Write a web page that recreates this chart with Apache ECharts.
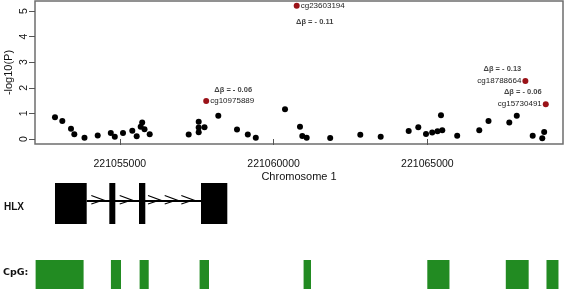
<!DOCTYPE html>
<html>
<head>
<meta charset="utf-8">
<script src="https://cdn.jsdelivr.net/npm/echarts@6/dist/echarts.min.js"></script>
<style>
  html, body { margin: 0; padding: 0; background: #fff; }
  #main { width: 567px; height: 290px; }
</style>
</head>
<body>
<div id="main"></div>
<script>
// probe positions (bp, chr1) and -log10(P)
var probePos = [221052893, 221053131, 221053413, 221053521, 221053852, 221054282, 221054707, 221054837,
  221055104, 221055406, 221055549, 221055679, 221055728, 221055803, 221055972, 221057240, 221057565,
  221057565, 221057565, 221057754, 221058202, 221058810, 221059161, 221059421, 221060371, 221060858,
  221060933, 221061076, 221061840, 221062819, 221063482, 221064392, 221064704, 221064955, 221065156,
  221065328, 221065484, 221065442, 221065969, 221066687, 221066987, 221067663, 221067906, 221068424,
  221068735, 221068797];
var probeVal = [0.85, 0.70, 0.40, 0.19, 0.05, 0.14, 0.23, 0.09, 0.23, 0.32, 0.11, 0.48, 0.64, 0.38,
  0.19, 0.18, 0.67, 0.45, 0.26, 0.46, 0.91, 0.37, 0.18, 0.05, 1.16, 0.48, 0.12, 0.05, 0.04, 0.17, 0.09,
  0.31, 0.46, 0.20, 0.25, 0.30, 0.34, 0.93, 0.13, 0.34, 0.70, 0.64, 0.91, 0.13, 0.03, 0.27];

// highlighted probes
var hitNames = ['cg10975889', 'cg23603194', 'cg18788664', 'cg15730491'];
var hitPos = [221057809, 221060751, 221068186, 221068849];
var hitVal = [1.48, 5.2, 2.27, 1.36];
var hitDelta = ['- 0.06', '- 0.11', '- 0.13', '- 0.06'];

// HLX gene model
var exons = [[221052893, 221053924], [221054659, 221054854], [221055624, 221055829], [221057640, 221058495]];
var strandArrows = [221054464, 221055387, 221056307, 221056850, 221057390];

// CpG islands
var cpgs = [[221052263, 221053823], [221054711, 221055039], [221055644, 221055940], [221057594, 221057900],
  [221060975, 221061216], [221064997, 221065718], [221067549, 221068293], [221068872, 221069262]];

var xTicks = [221055000, 221060000, 221065000];
var yTicks = [0, 1, 2, 3, 4, 5];
var xMin = 221052243, xMax = 221069409;

var font = 'Liberation Sans, Arial, sans-serif';
var chart = echarts.init(document.getElementById('main'));

// label placement for each highlighted probe
var nameSide = ['right', 'right', 'left', 'left'];
var deltaOffset = [[27, -11], [18, 16], [-23, -12], [-23, -12]];

var hitData = hitPos.map(function (p, i) {
  return { value: [p, hitVal[i]], name: hitNames[i], label: { position: nameSide[i] } };
});
var deltaData = hitPos.map(function (p, i) {
  return { value: [p, hitVal[i]], name: 'Δβ = ' + hitDelta[i], label: { offset: deltaOffset[i] } };
});

function rectItem(params, api) {
  var a = api.coord([api.value(0), 1]);
  var b = api.coord([api.value(1), 0]);
  return {
    type: 'rect',
    shape: { x: a[0], y: a[1], width: b[0] - a[0], height: b[1] - a[1] },
    style: { fill: api.visual('color') }
  };
}

var hidden = { show: false };

option = {
  animation: false,
  grid: [
    { left: 35, right: 4, top: 1, height: 143, outerBoundsMode: 'none', show: true, borderColor: '#6e6e6e', borderWidth: 1.5, backgroundColor: 'transparent' },
    { left: 35, right: 4, top: 183, height: 41, outerBoundsMode: 'none' },
    { left: 35, right: 4, top: 260, height: 29, outerBoundsMode: 'none' }
  ],
  xAxis: [
    {
      gridIndex: 0, type: 'value', min: xMin, max: xMax,
      name: 'Chromosome 1', nameLocation: 'middle', nameGap: 27, nameMoveOverlap: false,
      nameTextStyle: { fontFamily: font, fontSize: 11, color: '#111' },
      axisLine: { show: false },
      axisTick: { show: true, length: 6, customValues: xTicks, lineStyle: { color: '#555' } },
      axisLabel: {
        customValues: xTicks, margin: 15, fontFamily: font, fontSize: 10.5, color: '#111',
        formatter: function (v) { return String(v); }
      },
      splitLine: hidden
    },
    { gridIndex: 1, type: 'value', min: xMin, max: xMax, show: false },
    { gridIndex: 2, type: 'value', min: xMin, max: xMax, show: false }
  ],
  yAxis: [
    {
      gridIndex: 0, type: 'value', min: -0.195, max: 5.39,
      name: '-log10(P)', nameLocation: 'middle', nameGap: 21, nameRotate: 90, nameMoveOverlap: false,
      nameTextStyle: { fontFamily: font, fontSize: 11, color: '#111' },
      axisLine: { show: false },
      axisTick: { show: true, length: 6, customValues: yTicks, lineStyle: { color: '#555' } },
      axisLabel: { customValues: yTicks, rotate: 90, margin: 5, fontFamily: font, fontSize: 10.5, color: '#111' },
      splitLine: hidden
    },
    { gridIndex: 1, type: 'value', min: 0, max: 1, show: false },
    { gridIndex: 2, type: 'value', min: 0, max: 1, show: false }
  ],
  graphic: [
    { type: 'text', left: 4, top: 202, style: { text: 'HLX', font: 'bold 10px ' + font, fill: '#111' } },
    { type: 'text', left: 3, top: 268, style: { text: 'CpG:', font: 'bold 9.5px DejaVu Sans, sans-serif', fill: '#111' } }
  ],
  series: [
    {
      type: 'scatter', xAxisIndex: 0, yAxisIndex: 0, symbolSize: 6,
      itemStyle: { color: '#000', opacity: 1 },
      data: probePos.map(function (p, i) { return [p, probeVal[i]]; })
    },
    {
      type: 'scatter', xAxisIndex: 0, yAxisIndex: 0, symbolSize: 6,
      itemStyle: { color: '#9a1218', opacity: 1 },
      label: { show: true, formatter: '{b}', distance: 1, fontFamily: font, fontSize: 8, color: '#222' },
      data: hitData
    },
    {
      type: 'scatter', xAxisIndex: 0, yAxisIndex: 0, symbolSize: 0,
      label: { show: true, position: 'inside', formatter: '{b}', fontFamily: font, fontSize: 7.5, fontWeight: 'bold', color: '#111' },
      data: deltaData
    },
    {
      // intron line
      type: 'custom', xAxisIndex: 1, yAxisIndex: 1,
      renderItem: function (params, api) {
        var a = api.coord([api.value(0), 0.56]);
        var b = api.coord([api.value(1), 0.56]);
        return { type: 'line', shape: { x1: a[0], y1: a[1], x2: b[0], y2: b[1] }, style: { stroke: '#000', lineWidth: 2 } };
      },
      data: [[exons[0][1], exons[exons.length - 1][0]]]
    },
    {
      type: 'custom', xAxisIndex: 1, yAxisIndex: 1,
      renderItem: function (params, api) {
        var t = api.coord([api.value(0), 0.56]);
        return {
          type: 'polyline',
          shape: { points: [[t[0] - 12, t[1] - 5.5], [t[0], t[1] - 1], [t[0] - 12, t[1] + 3]] },
          style: { stroke: '#000', fill: null, lineWidth: 1.2 }
        };
      },
      data: strandArrows.map(function (p) { return [p]; })
    },
    {
      type: 'custom', xAxisIndex: 1, yAxisIndex: 1,
      itemStyle: { color: '#000' },
      renderItem: rectItem,
      data: exons
    },
    {
      type: 'custom', xAxisIndex: 2, yAxisIndex: 2,
      itemStyle: { color: '#228b22' },
      renderItem: rectItem,
      data: cpgs
    }
  ]
};

if (option && typeof option === "object") {
  chart.setOption(option, true);
}
</script>
</body>
</html>
